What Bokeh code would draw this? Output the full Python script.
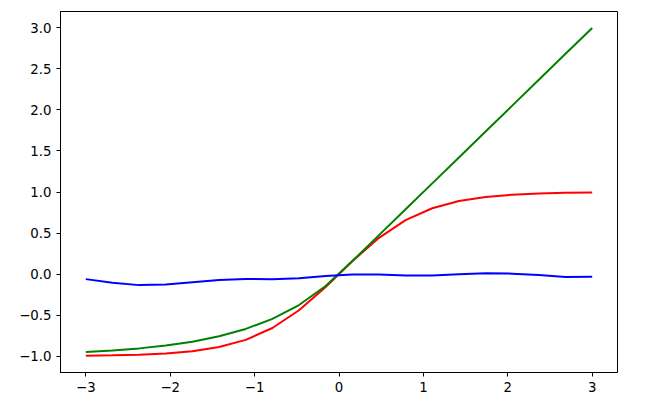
from bokeh.plotting import figure
from bokeh.models import FixedTicker, Range1d
from bokeh.embed import file_html
from bokeh.resources import INLINE

# x sample positions (20 points from -3 to 3)
x = [-3.0, -2.684, -2.368, -2.053, -1.737, -1.421, -1.105, -0.789, -0.474, -0.158,
     0.158, 0.474, 0.789, 1.105, 1.421, 1.737, 2.053, 2.368, 2.684, 3.0]

red = [-0.995, -0.991, -0.983, -0.967, -0.940, -0.890, -0.802, -0.658, -0.441, -0.157,
       0.157, 0.441, 0.658, 0.802, 0.890, 0.940, 0.967, 0.983, 0.991, 0.995]

green = [-0.950, -0.932, -0.906, -0.872, -0.824, -0.758, -0.669, -0.546, -0.378, -0.146,
         0.158, 0.474, 0.789, 1.105, 1.421, 1.737, 2.053, 2.368, 2.684, 3.0]

blue = [-0.062, -0.105, -0.135, -0.128, -0.100, -0.073, -0.061, -0.063, -0.052, -0.024,
        -0.006, -0.007, -0.018, -0.019, -0.004, 0.010, 0.005, -0.012, -0.035, -0.032]

x_ticks = [-3, -2, -1, 0, 1, 2, 3]
x_tick_labels = ["\u22123", "\u22122", "\u22121", "0", "1", "2", "3"]
y_ticks = [-1.0, -0.5, 0.0, 0.5, 1.0, 1.5, 2.0, 2.5, 3.0]
y_tick_labels = ["\u22121.0", "\u22120.5", "0.0", "0.5", "1.0", "1.5", "2.0", "2.5", "3.0"]

p = figure(width=637, height=404, output_backend="svg", toolbar_location=None,
           x_range=Range1d(-3.3, 3.3), y_range=Range1d(-1.2, 3.2),
           min_border_left=60, min_border_right=20, min_border_top=11, min_border_bottom=32)

p.line(x, red, line_color="red", line_width=2)
p.line(x, green, line_color="green", line_width=2)
p.line(x, blue, line_color="blue", line_width=2)

p.xgrid.visible = False
p.ygrid.visible = False
p.outline_line_color = "black"
p.outline_line_width = 1
p.background_fill_color = "white"
p.border_fill_color = "white"

p.xaxis.ticker = FixedTicker(ticks=x_ticks)
p.xaxis.major_label_overrides = {t: l for t, l in zip(x_ticks, x_tick_labels)}
p.yaxis.ticker = FixedTicker(ticks=y_ticks)
p.yaxis.major_label_overrides = {t: l for t, l in zip(y_ticks, y_tick_labels)}

for ax in (p.xaxis, p.yaxis):
    ax.axis_line_color = "black"
    ax.axis_line_width = 1
    ax.major_tick_line_color = "black"
    ax.major_tick_line_width = 1
    ax.major_tick_out = 4
    ax.major_tick_in = 0
    ax.minor_tick_line_color = None
    ax.major_label_text_font = "DejaVu Sans"
    ax.major_label_text_font_size = "13.33px"
    ax.major_label_text_color = "black"
    ax.major_label_standoff = 5

open("out.html", "w").write(file_html(p, INLINE))
